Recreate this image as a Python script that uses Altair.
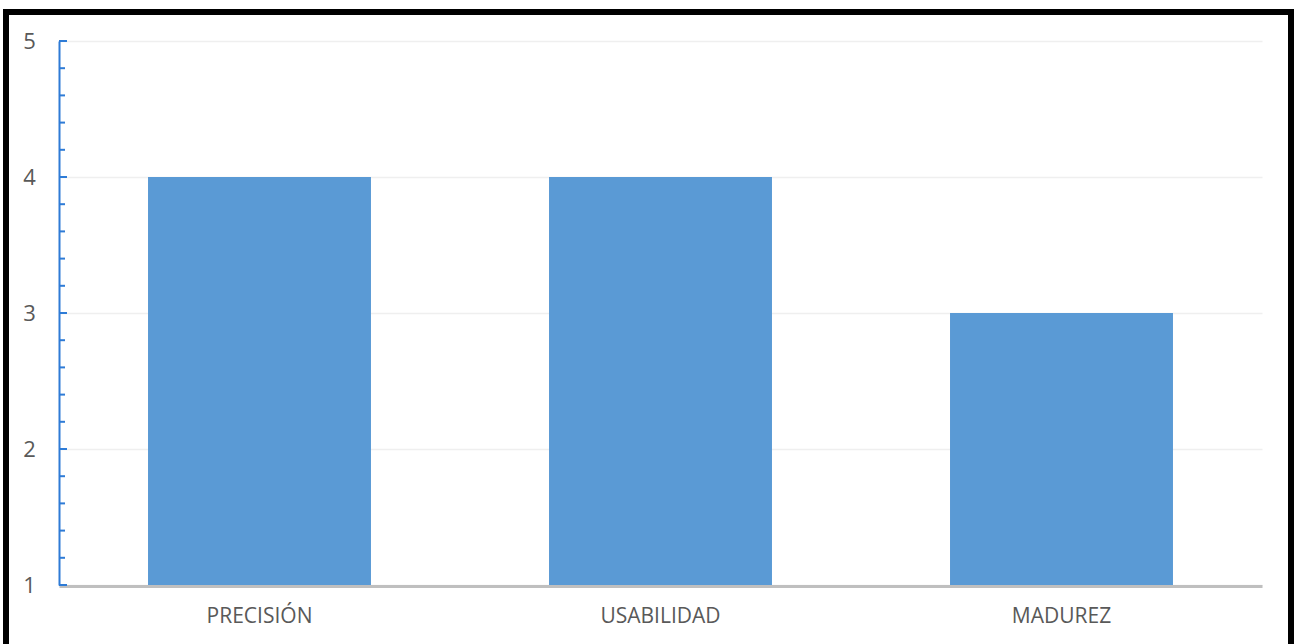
import altair as alt
import numpy as np
import pandas as pd

# Scores per quality attribute
categories = ["PRECISIÓN", "USABILIDAD", "MADUREZ"]
scores = [4, 4, 3]

# Value axis range and tick layout
y_min, y_max = 1, 5
major_ticks = [1, 2, 3, 4, 5]
minor_ticks = [round(v, 1) for v in np.arange(1.2, 5.0, 0.2) if abs(v - round(v)) > 1e-6]

W, H = 1203, 544
FONT = "Open Sans"
AXIS_BLUE = "#2E7BD6"

bars_df = pd.DataFrame({"cat": categories, "score": scores})
major_df = pd.DataFrame({"v": major_ticks})
minor_df = pd.DataFrame({"v": minor_ticks})

y_scale = alt.Scale(domain=[y_min, y_max], zero=False, nice=False)

bars = alt.Chart(bars_df).mark_bar(color="#5A9AD5").encode(
    x=alt.X(
        "cat:N",
        sort=categories,
        title=None,
        scale=alt.Scale(paddingInner=0.444, paddingOuter=0.222),
        axis=alt.Axis(
            labelAngle=0,
            labelFont=FONT,
            labelFontSize=21,
            labelColor="#595959",
            labelPadding=19,
            ticks=False,
            domainColor="#BFBFBF",
            domainWidth=3,
            offset=1,
        ),
    ),
    y=alt.Y(
        "score:Q",
        scale=y_scale,
        title=None,
        axis=alt.Axis(
            values=major_ticks,
            format="d",
            labelFont=FONT,
            labelFontSize=22,
            labelColor="#595959",
            labelAlign="center",
            labelBaseline="middle",
            labelPadding=30,
            ticks=False,
            domainColor=AXIS_BLUE,
            domainWidth=2,
            grid=True,
            gridColor="#EFEFEF",
            gridWidth=1.5,
        ),
    ),
    y2=alt.datum(y_min),
)

# Inward-facing tick marks on the value axis
major_rules = alt.Chart(major_df).mark_rule(color=AXIS_BLUE, strokeWidth=2).encode(
    y=alt.Y("v:Q", scale=y_scale),
    x=alt.value(0),
    x2=alt.value(8),
)
minor_rules = alt.Chart(minor_df).mark_rule(color=AXIS_BLUE, strokeWidth=2).encode(
    y=alt.Y("v:Q", scale=y_scale),
    x=alt.value(0),
    x2=alt.value(6),
)

# Black frame around the whole figure
frame = alt.Chart(pd.DataFrame({"k": [0]})).mark_rect(
    filled=False, stroke="black", strokeWidth=6
).encode(
    x=alt.value(-53),
    x2=alt.value(1232),
    y=alt.value(-29),
    y2=alt.value(H + 120),
)

chart = (
    alt.layer(bars, major_rules, minor_rules, frame)
    .properties(
        width=W,
        height=H,
        padding={"left": 59, "top": 41, "right": 34, "bottom": 59},
        autosize=alt.AutoSizeParams(type="none"),
        background="white",
    )
    .configure_view(stroke=None)
)

chart.save("out.html", embed_options={"renderer": "svg", "actions": False})
